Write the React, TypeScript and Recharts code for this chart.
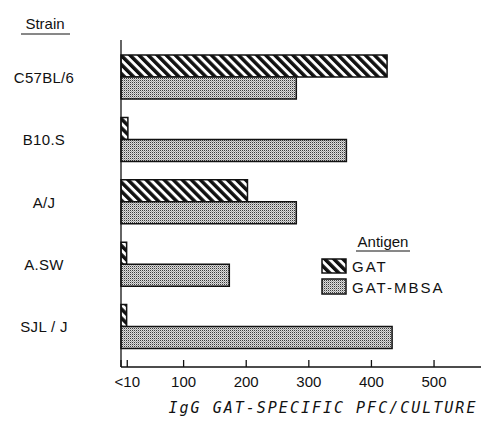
import { BarChart, Bar, XAxis, YAxis } from "recharts";

const strains = ["C57BL/6", "B10.S", "A/J", "A.SW", "SJL / J"];
const gatValues = [425, 11, 202, 9, 9];
const gatMbsaValues = [280, 360, 280, 173, 433];
const xTicks = [0, 10, 100, 200, 300, 400, 500];
const xTickLabels: Record<number, string> = {
  10: "<10",
  100: "100",
  200: "200",
  300: "300",
  400: "400",
  500: "500",
};

const data = strains.map((name, i) => ({
  name,
  gat: gatValues[i],
  gatMbsa: gatMbsaValues[i],
}));

const font = "'Liberation Sans', Arial, sans-serif";

function StrainTick({ y, payload }: any) {
  return (
    <text
      x={44}
      y={y}
      textAnchor="middle"
      dominantBaseline="central"
      fontFamily={font}
      fontSize={15}
      letterSpacing={0.3}
      fill="#111"
    >
      {payload.value}
    </text>
  );
}

function ValueTick({ x, y, payload }: any) {
  const label = xTickLabels[payload.value];
  return (
    <g>
      <line x1={x} x2={x} y1={y} y2={y - 7} stroke="#111" strokeWidth={1.3} />
      {label && (
        <text
          x={x}
          y={y + 14}
          textAnchor="middle"
          dominantBaseline="central"
          fontFamily={font}
          fontSize={15}
          fill="#111"
        >
          {label}
        </text>
      )}
    </g>
  );
}

export default function App() {
  return (
    <div style={{ position: "absolute", left: 0, top: 0, width: 484, height: 422, background: "#fff" }}>
      <svg width={0} height={0} style={{ position: "absolute" }}>
        <defs>
          <pattern id="hatch" width={6.4} height={6.4} patternUnits="userSpaceOnUse" patternTransform="rotate(-45)">
            <rect x={0} y={0} width={6.4} height={6.4} fill="#fff" />
            <rect x={0} y={0} width={3.5} height={6.4} fill="#111" />
          </pattern>
          <pattern id="stipple" width={2} height={2} patternUnits="userSpaceOnUse">
            <rect x={0} y={0} width={2} height={2} fill="#dcdcdc" />
            <rect x={0} y={0} width={1} height={1} fill="#3a3a3a" />
            <rect x={1} y={1} width={1} height={1} fill="#a4a4a4" />
          </pattern>
        </defs>
      </svg>
      <BarChart
        width={484}
        height={422}
        data={data}
        layout="vertical"
        margin={{ top: 40, right: 3, bottom: 0, left: 0 }}
        barSize={22}
        barGap={0}
      >
        <XAxis
          type="number"
          domain={[0, 575]}
          ticks={xTicks}
          interval={0}
          tickLine={false}
          tickSize={0}
          tickMargin={0}
          tick={<ValueTick />}
          axisLine={{ stroke: "#111", strokeWidth: 1.3 }}
          height={55}
        />
        <YAxis
          type="category"
          dataKey="name"
          width={121}
          padding={{ top: 6, bottom: 9 }}
          tickLine={false}
          tick={<StrainTick />}
          axisLine={{ stroke: "#111", strokeWidth: 1.3 }}
        />
        <Bar dataKey="gat" fill="url(#hatch)" stroke="#111" strokeWidth={1.5} isAnimationActive={false} />
        <Bar dataKey="gatMbsa" fill="url(#stipple)" stroke="#111" strokeWidth={1.5} isAnimationActive={false} />
      </BarChart>
      <svg width={484} height={422} style={{ position: "absolute", left: 0, top: 0, pointerEvents: "none" }}>
        <text x={45} y={23} textAnchor="middle" dominantBaseline="central" fontFamily={font} fontSize={15} fill="#111">
          Strain
        </text>
        <line x1={21} x2={70} y1={34} y2={34} stroke="#111" strokeWidth={1} />
        <text x={383} y={241} textAnchor="middle" dominantBaseline="central" fontFamily={font} fontSize={15} fill="#111">
          Antigen
        </text>
        <line x1={356} x2={410} y1={251} y2={251} stroke="#111" strokeWidth={1} />
        <rect x={322} y={259} width={24} height={14} fill="url(#hatch)" stroke="#111" strokeWidth={1.5} />
        <text x={352} y={266} dominantBaseline="central" fontFamily={font} fontSize={15} letterSpacing={2} fill="#111">
          GAT
        </text>
        <rect x={322} y={279} width={24} height={15} fill="url(#stipple)" stroke="#111" strokeWidth={1.5} />
        <text x={352} y={287} dominantBaseline="central" fontFamily={font} fontSize={15} letterSpacing={2} fill="#111">
          GAT-MBSA
        </text>
        <text
          x={323}
          y={408}
          textAnchor="middle"
          dominantBaseline="central"
          fontFamily="'DejaVu Sans Mono', monospace"
          fontStyle="italic"
          fontSize={15}
          letterSpacing={2}
          fill="#111"
        >
          IgG GAT-SPECIFIC PFC/CULTURE
        </text>
      </svg>
    </div>
  );
}
